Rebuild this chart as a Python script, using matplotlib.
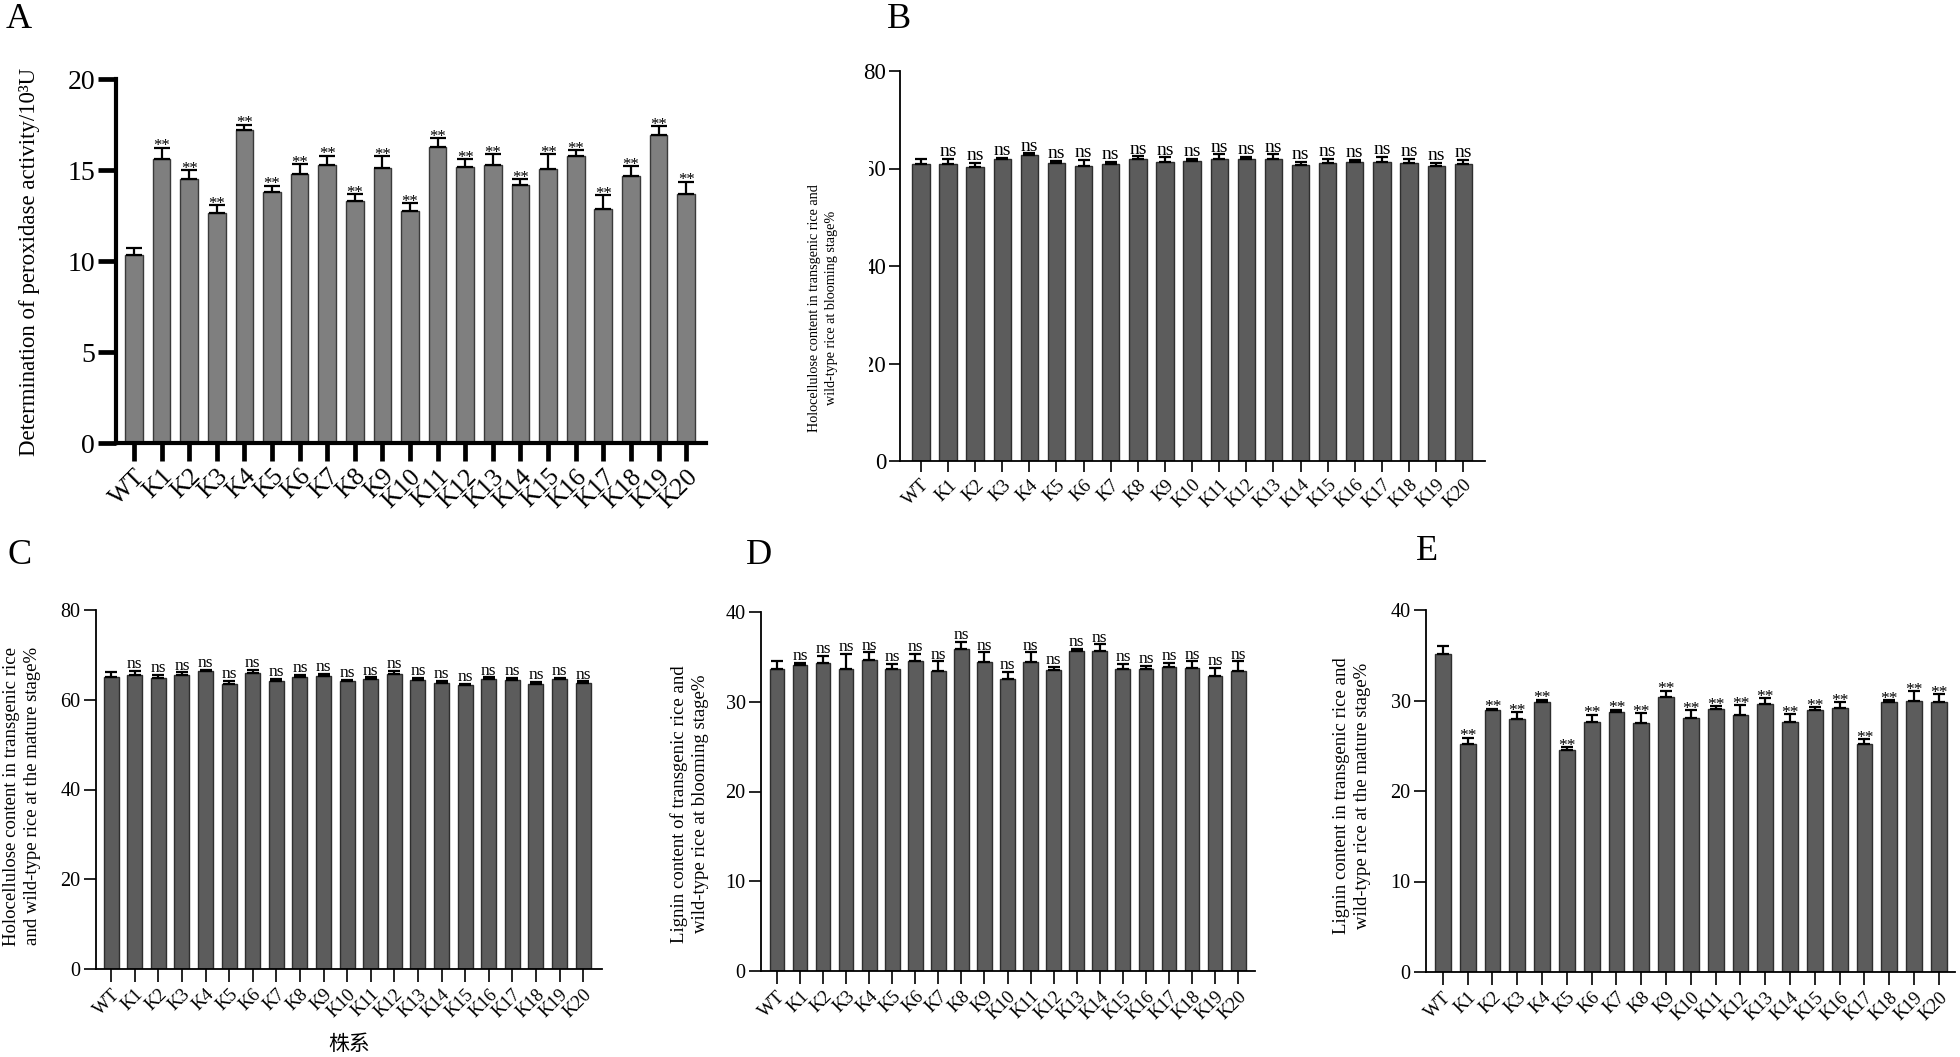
import matplotlib
matplotlib.use('Agg')
import matplotlib.pyplot as plt
import numpy as np
from matplotlib.patches import Rectangle

plt.rcParams['font.family'] = ['Liberation Serif', 'DejaVu Serif']

# line names on every x axis
lines = ['WT', 'K1', 'K2', 'K3', 'K4', 'K5', 'K6', 'K7', 'K8', 'K9', 'K10',
         'K11', 'K12', 'K13', 'K14', 'K15', 'K16', 'K17', 'K18', 'K19', 'K20']

# A: peroxidase activity
pod_mean = [10.32, 15.61, 14.49, 12.63, 17.18, 13.78, 14.77, 15.26, 13.28, 15.11, 12.75,
            16.27, 15.15, 15.30, 14.18, 15.04, 15.75, 12.86, 14.68, 16.94, 13.69]
pod_err = [0.42, 0.62, 0.50, 0.42, 0.31, 0.36, 0.56, 0.53, 0.41, 0.64, 0.42,
           0.49, 0.44, 0.56, 0.33, 0.82, 0.33, 0.77, 0.53, 0.46, 0.67]
pod_sig = ['', '**', '**', '**', '**', '**', '**', '**', '**', '**', '**',
           '**', '**', '**', '**', '**', '**', '**', '**', '**', '**']

# B: holocellulose, blooming stage
holo_bloom_mean = [60.9, 61.0, 60.4, 61.9, 62.7, 61.1, 60.5, 60.9, 61.9, 61.3, 61.5,
                   62.0, 61.9, 62.0, 60.7, 61.2, 61.3, 61.4, 61.1, 60.5, 60.9]
holo_bloom_err = [1.1, 1.0, 0.8, 0.3, 0.4, 0.5, 1.2, 0.4, 0.6, 1.0, 0.5,
                  0.9, 0.5, 0.9, 0.7, 0.7, 0.5, 1.0, 0.9, 0.7, 0.8]

# C: holocellulose, mature stage
holo_mature_mean = [65.1, 65.6, 64.8, 65.6, 66.4, 63.5, 65.9, 64.2, 65.1, 65.2, 64.2,
                    64.6, 65.8, 64.3, 63.8, 63.2, 64.7, 64.3, 63.5, 64.7, 63.8]
holo_mature_err = [1.0, 0.8, 0.8, 0.5, 0.2, 0.7, 0.7, 0.5, 0.4, 0.5, 0.3,
                   0.4, 0.6, 0.5, 0.4, 0.4, 0.3, 0.5, 0.4, 0.2, 0.3]

# D: lignin, blooming stage
lig_bloom_mean = [33.6, 34.06, 34.3, 33.6, 34.6, 33.7, 34.5, 33.4, 35.85, 34.4, 32.5,
                  34.4, 33.5, 35.6, 35.7, 33.7, 33.6, 33.9, 33.8, 32.9, 33.4]
lig_bloom_err = [0.9, 0.25, 0.8, 1.75, 0.9, 0.5, 0.85, 1.1, 0.8, 1.1, 0.8,
                 1.1, 0.4, 0.3, 0.7, 0.5, 0.4, 0.4, 0.7, 0.85, 1.1]

# E: lignin, mature stage
lig_mature_mean = [35.1, 25.2, 28.9, 28.0, 29.8, 24.5, 27.65, 28.7, 27.5, 30.4, 28.1,
                   29.1, 28.4, 29.6, 27.6, 28.9, 29.2, 25.2, 29.8, 29.96, 29.8]
lig_mature_err = [0.9, 0.7, 0.2, 0.75, 0.3, 0.35, 0.8, 0.3, 1.1, 0.7, 0.8,
                  0.3, 1.1, 0.7, 0.9, 0.4, 0.6, 0.5, 0.25, 1.1, 0.9]

ns_sig = [''] + ['ns'] * 20
star_sig = [''] + ['**'] * 20

W, H = 1960, 1057
fig = plt.figure(figsize=(W / 100, H / 100), dpi=100)


def add_axes(x0, y0, x1, y1):
    # pixel box (top-down) -> figure fraction
    return fig.add_axes([x0 / W, 1 - y1 / H, (x1 - x0) / W, (y1 - y0) / H])


def panel(ax, mean, err, sig, ylim, yticks, xlim, bar_color, edge_color,
          spine_w, tick_len, tick_w, lab_size, ytick_size, sig_size, sig_dy,
          cap, elw, width=0.64):
    x = np.arange(len(lines))
    ax.bar(x, mean, width=width, color=bar_color, edgecolor=edge_color,
           linewidth=1.0, zorder=2)
    ax.errorbar(x, mean, yerr=[np.zeros(len(err)), err], fmt='none', ecolor='black',
                elinewidth=elw, capsize=cap, capthick=elw, zorder=3)
    for i, s in enumerate(sig):
        if s:
            ax.annotate(s, (x[i], mean[i] + err[i]), xytext=(0, sig_dy),
                        textcoords='offset points', ha='center', va='baseline',
                        fontsize=sig_size)
    ax.set_xlim(*xlim)
    ax.set_ylim(*ylim)
    ax.set_yticks(yticks)
    ax.set_xticks(x)
    ax.set_xticklabels(lines, rotation=45, ha='right', rotation_mode='anchor',
                       fontsize=lab_size)
    ax.tick_params(axis='y', labelsize=ytick_size, length=tick_len, width=tick_w,
                   direction='out', pad=2)
    ax.tick_params(axis='x', length=tick_len, width=tick_w, direction='out', pad=3)
    for s in ['top', 'right']:
        ax.spines[s].set_visible(False)
    for s in ['left', 'bottom']:
        ax.spines[s].set_linewidth(spine_w)
    ax.patch.set_alpha(0)


# A
axA = add_axes(116, 79, 706, 443)
panel(axA, pod_mean, pod_err, pod_sig, (0, 20), [0, 5, 10, 15, 20], (-0.65, 20.72),
      '#7f7f7f', '#3a3a3a', 3.0, 13, 3.4, 18.5, 20, 12, -2, 5.5, 1.6)

# B
axB = add_axes(900, 71, 1485, 461)
panel(axB, holo_bloom_mean, holo_bloom_err, ns_sig, (0, 80), [0, 20, 40, 60, 80],
      (-0.77, 20.8), '#5c5c5c', '#2e2e2e', 1.3, 8, 1.2, 13.5, 16.5, 14, 2, 4.5, 1.6)

# C
axC = add_axes(96, 610, 602, 969)
panel(axC, holo_mature_mean, holo_mature_err, ns_sig, (0, 80), [0, 20, 40, 60, 80],
      (-0.64, 20.8), '#5c5c5c', '#2e2e2e', 1.3, 9, 1.2, 13.5, 14.5, 12.5, 2, 4.0, 1.6)
axC.set_xlabel('株系', family=['Noto Sans CJK SC'], fontsize=15, labelpad=9)

# D
axD = add_axes(761, 612, 1255, 971)
panel(axD, lig_bloom_mean, lig_bloom_err, ns_sig, (0, 40), [0, 10, 20, 30, 40],
      (-0.69, 20.73), '#5c5c5c', '#2e2e2e', 1.3, 9, 1.2, 13.5, 14.5, 12.5, 2, 4.0, 1.6)

# E
axE = add_axes(1426, 610, 1955, 972)
panel(axE, lig_mature_mean, lig_mature_err, star_sig, (0, 40), [0, 10, 20, 30, 40],
      (-0.68, 20.65), '#5c5c5c', '#2e2e2e', 1.3, 9, 1.2, 13.5, 14.5, 12.5, -2, 4.0, 1.6)

# B's y label sits over part of its tick numbers
fig.add_artist(Rectangle((790 / W, 1 - 440 / H), 79 / W, 330 / H,
                         transform=fig.transFigure, facecolor='white',
                         edgecolor='none', zorder=5))


def ylab(x, y, text, size, ls=1.3):
    fig.text(x / W, 1 - y / H, text, rotation=90, ha='center', va='center',
             multialignment='center', fontsize=size, linespacing=ls, zorder=6)


ylab(30, 262, 'Determination of peroxidase activity/10³U', 16.5)
ylab(823, 308, 'Holocellulose content in transgenic rice and\nwild-type rice at blooming stage%', 10.2, 1.45)
ylab(22, 796, 'Holocellulose content in transgenic rice\nand wild-type rice at the mature stage%', 13.5)
ylab(690, 804, 'Lignin content of transgenic rice and\nwild-type rice at blooming stage%', 13.5)
ylab(1352, 796, 'Lignin content in transgenic rice and\nwild-type rice at the mature stage%', 13.5)

for lbl, x, y in [('A', 19, 20), ('B', 899, 20), ('C', 20, 556), ('D', 759, 556), ('E', 1427, 552)]:
    fig.text(x / W, 1 - y / H, lbl, ha='center', va='center', fontsize=26)

fig.savefig('out.png', dpi=100, facecolor='white')
